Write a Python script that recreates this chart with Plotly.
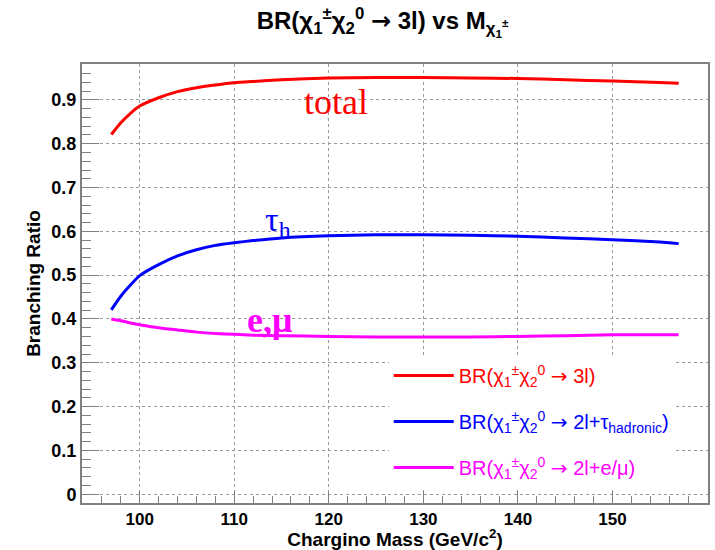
import plotly.graph_objects as go

mass = [97, 98, 99, 100, 102, 104, 106, 108, 110, 112, 115, 120, 125, 130, 135, 140, 145, 150, 155, 157]
br_total = [0.821, 0.848, 0.869, 0.886, 0.905, 0.919, 0.928, 0.934, 0.939, 0.942, 0.946, 0.950, 0.951, 0.951, 0.950, 0.949, 0.946, 0.943, 0.940, 0.938]
br_tau = [0.421, 0.452, 0.477, 0.499, 0.524, 0.544, 0.558, 0.568, 0.574, 0.579, 0.585, 0.590, 0.592, 0.592, 0.591, 0.589, 0.585, 0.581, 0.576, 0.572]
br_emu = [0.400, 0.396, 0.391, 0.387, 0.380, 0.375, 0.370, 0.367, 0.365, 0.363, 0.362, 0.360, 0.359, 0.359, 0.359, 0.360, 0.362, 0.364, 0.364, 0.364]

RED, BLUE, MAG = "#ff0000", "#0000ff", "#ff00ff"
chi = "χ<sub>1</sub><sup>±</sup>χ<sub>2</sub><sup>0</sup>"
arrow = '<span style="font-family:DejaVu Sans">→</span>'
names = [
    f'<span style="color:{RED}">BR({chi} {arrow} 3l)</span>',
    f'<span style="color:{BLUE}">BR({chi} {arrow} 2l+τ<sub>hadronic</sub>)</span>',
    f'<span style="color:{MAG}">BR({chi} {arrow} 2l+e/μ)</span>',
]

fig = go.Figure()
for ys, col, nm, grp in [(br_total, RED, names[0], "a"), (br_tau, BLUE, names[1], "b"), (br_emu, MAG, names[2], "c")]:
    fig.add_trace(go.Scatter(x=mass, y=ys, mode="lines", name=nm, legendgroup=grp,
                             line=dict(color=col, width=3, shape="spline", smoothing=0.5)))

serif = "Liberation Serif, Times New Roman, serif"
fig.add_annotation(x=120.8, y=0.895, text="total", showarrow=False,
                   font=dict(family=serif, size=36, color=RED))
fig.add_annotation(x=114.6, y=0.622, text="τ<sub>h</sub>", showarrow=False,
                   font=dict(family=serif, size=34, color=BLUE))
fig.add_annotation(x=113.7, y=0.398, text="<b>e,μ</b>", showarrow=False,
                   font=dict(family=serif, size=36, color=MAG))

sans = "Liberation Sans, Arial, sans-serif"
axcol = "#7f7f7f"
fig.update_layout(
    width=715, height=550,
    margin=dict(l=82, r=5, t=64, b=47),
    paper_bgcolor="white", plot_bgcolor="white",
    font=dict(family=sans, color="black"),
    title=dict(text=f"<b>BR({chi} {arrow} 3l) vs M<sub>χ<sub>1</sub><sup>±</sup></sub></b>",
               x=0.535, xanchor="center", y=0.962, yanchor="middle",
               font=dict(size=24, family=sans, color="black")),
    legend=dict(x=0.49, y=0.335, xanchor="left", yanchor="top", bgcolor="white",
                borderwidth=0, font=dict(size=20, family=sans), tracegroupgap=17,
                itemwidth=60),
    xaxis=dict(range=[93.9, 160.1], dtick=10, tick0=0, ticks="inside", ticklen=12,
               tickcolor=axcol, showline=True, linecolor=axcol, linewidth=2, mirror=True,
               showgrid=True, gridcolor="#9a9a9a", griddash="dot", gridwidth=1,
               zeroline=False,
               tickfont=dict(size=17, family=sans, color="black", weight="bold"),
               ticklabelstandoff=0,
               minor=dict(dtick=2, ticks="inside", ticklen=7, tickcolor=axcol, showgrid=False),
               title=dict(text="<b>Chargino Mass (GeV/c<sup>2</sup>)</b>", standoff=0,
                          font=dict(size=19, family=sans, color="black"))),
    yaxis=dict(range=[-0.02, 0.982], dtick=0.1, tick0=0, ticks="inside", ticklen=17,
               tickcolor=axcol, showline=True, linecolor=axcol, linewidth=2, mirror=True,
               showgrid=True, gridcolor="#9a9a9a", griddash="dot", gridwidth=1,
               zeroline=False, tickformat="~g",
               tickfont=dict(size=18, family=sans, color="black", weight="bold"),
               minor=dict(dtick=0.02, ticks="inside", ticklen=9, tickcolor=axcol, showgrid=False),
               title=dict(text="<b>Branching Ratio</b>", standoff=6,
                          font=dict(size=19, family=sans, color="black"))),
)
fig.write_html("out.html")
